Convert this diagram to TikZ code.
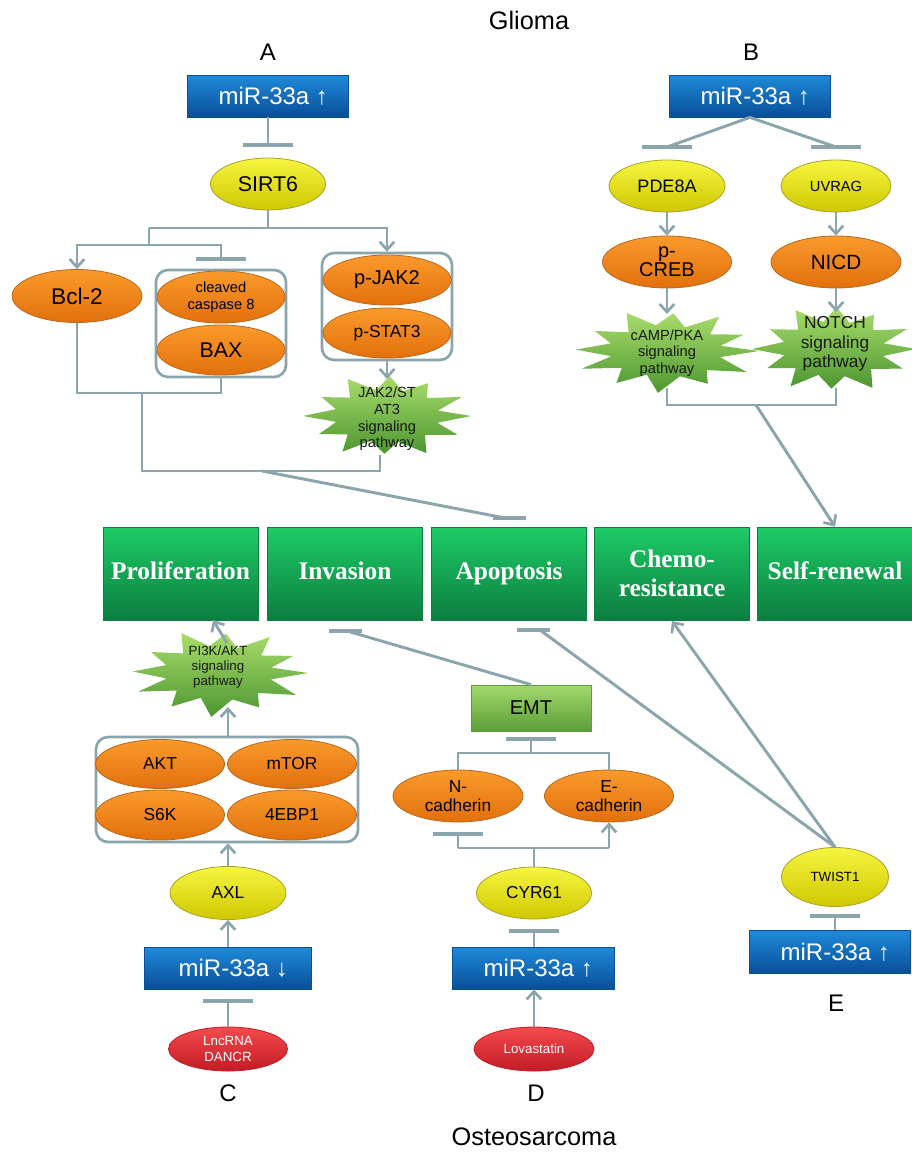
\documentclass[tikz,border=0pt]{standalone}
\usepackage{fontspec}
\setmainfont{Liberation Sans}
\newfontfamily\serifbold{Liberation Serif}
\usetikzlibrary{shapes.geometric,arrows.meta}
\definecolor{lnc}{HTML}{8AA6AC}
\definecolor{blueT}{HTML}{1E8ADA}
\definecolor{blueB}{HTML}{0A4E98}
\definecolor{yelT}{HTML}{F6F640}
\definecolor{yelB}{HTML}{CFC800}
\definecolor{yelD}{HTML}{A9A22A}
\definecolor{orT}{HTML}{FA9A2C}
\definecolor{orB}{HTML}{E2700C}
\definecolor{orD}{HTML}{B8681E}
\definecolor{grT}{HTML}{1DCB66}
\definecolor{grB}{HTML}{0C7E40}
\definecolor{stT}{HTML}{A9DC6C}
\definecolor{stB}{HTML}{4C9630}
\definecolor{emtT}{HTML}{A2D96C}
\definecolor{emtB}{HTML}{5C9E38}
\definecolor{redT}{HTML}{F44A4C}
\definecolor{redB}{HTML}{C21C26}
\tikzset{
  ln/.style={draw=lnc, line width=2.2pt},
  arr/.style={ln, -{Straight Barb[length=6pt,width=11pt,line width=2pt]}},
  inh/.style={ln, -{Bar[width=37.5pt,line width=3pt]}},
  hbar/.style={draw=lnc, line width=3pt},
  ttl/.style={font=\fontsize{19}{22}\selectfont, inner sep=0pt},
  lab/.style={font=\fontsize{18}{20}\selectfont, inner sep=0pt},
  mir/.style={rectangle, inner sep=0pt, minimum height=31.5pt, top color=blueT, bottom color=blueB, draw=blueB, line width=0.6pt, text=white, font=\fontsize{18}{20}\selectfont},
  yel/.style={ellipse, inner sep=0pt, align=center, top color=yelT, bottom color=yelB, draw=yelD, line width=0.6pt},
  org/.style={ellipse, inner sep=0pt, align=center, top color=orT, bottom color=orB, draw=orD, line width=0.6pt},
  rednode/.style={ellipse, inner sep=0pt, align=center, top color=redT, bottom color=redB, draw=redB, line width=0.6pt, text=white, font=\fontsize{10}{12}\selectfont},
  grn/.style={rectangle, inner sep=0pt, minimum width=116.25pt, minimum height=69.75pt, top color=grT, bottom color=grB, draw=grB, line width=0.4pt, text=white, align=center, font=\serifbold\bfseries\fontsize{19}{22}\selectfont},
  grp/.style={rectangle, rounded corners=9pt, draw=lnc, line width=2pt, inner sep=0pt},
  emtbox/.style={rectangle, inner sep=0pt, top color=emtT, bottom color=emtB, draw=emtB, line width=0.6pt},
  sttx/.style={align=center, inner sep=0pt, text=black!90},
  starsh/.style={top color=stT, bottom color=stB}
}
\def\ptsA{15/0.62,28/0.95,45/0.64,62/1.0,78/0.63,92/0.9,108/0.62,122/1.0,137/0.64,152/0.92,167/0.62,180/1.0,195/0.63,210/0.9,225/0.62,242/1.0,258/0.63,272/0.95,288/0.62,302/0.92,318/0.64,333/1.0,348/0.62}
\def\ptsB{14/0.6,30/1.0,46/0.63,60/0.9,76/0.62,95/1.0,110/0.6,125/0.93,140/0.62,155/1.0,168/0.6,182/0.97,197/0.62,212/0.9,228/0.6,245/1.0,260/0.62,275/0.9,290/0.6,305/1.0,320/0.62,335/0.92,348/0.6}
\newcommand\burst[5]{\shade[starsh] ({#1+#3},{#2}) \foreach \a/\f in #5 { -- ({#1+\f*#3*cos(\a)},{#2+\f*#4*sin(\a)}) } -- cycle;}
\newcommand\gtx[1]{\vphantom{Ap}#1}
\begin{document}
\begin{tikzpicture}[x=0.75pt,y=-0.75pt]
\useasboundingbox (0,0) rectangle (912,1153);
\fill[white] (0,0) rectangle (912,1153);

% ---------- titles ----------
\node[ttl] (glioma) at (529,20) {Glioma};
\node[lab] (lA) at (268,52) {A};
\node[lab] (lB) at (751,52) {B};

% ---------- A ----------
\node[mir, minimum width=120.75pt] (mirA) at (268,96) {\hspace*{8pt}miR-33a ↑};
\node[yel, minimum width=86.25pt, minimum height=39pt, font=\fontsize{16}{18}\selectfont] (sirt) at (268,184) {SIRT6};
\node[org, minimum width=97.5pt, minimum height=39.75pt, font=\fontsize{17}{19}\selectfont] (bcl) at (77,296) {Bcl-2};
\node[grp, minimum width=97.5pt, minimum height=80.25pt] (g1) at (221,323.5) {};
\node[org, minimum width=96pt, minimum height=39pt, font=\fontsize{11}{12.5}\selectfont] (cc8) at (221,297) {cleaved\\caspase 8};
\node[org, minimum width=96pt, minimum height=37.5pt, font=\fontsize{16}{18}\selectfont] (bax) at (221,350) {BAX};
\node[grp, minimum width=97.5pt, minimum height=80.25pt] (g2) at (387,306.5) {};
\node[org, minimum width=96pt, minimum height=37.5pt, font=\fontsize{15}{17}\selectfont] (pjak) at (387,280) {p-JAK2};
\node[org, minimum width=96pt, minimum height=37.5pt, font=\fontsize{13}{15}\selectfont] (pstat) at (387,333) {p-STAT3};
\burst{387}{416}{84}{42}{\ptsA}
\node[sttx, font=\fontsize{11}{12.5}\selectfont] (jak) at (387,419) {JAK2/ST\\AT3\\signaling\\pathway};

% ---------- B ----------
\node[mir, minimum width=120.75pt] (mirB) at (750,96) {\hspace*{8pt}miR-33a ↑};
\node[yel, minimum width=87pt, minimum height=39pt, font=\fontsize{13.5}{15}\selectfont] (pde) at (667,186) {PDE8A};
\node[yel, minimum width=82.5pt, minimum height=39pt, font=\fontsize{11}{13}\selectfont] (uvr) at (836,186) {UVRAG};
\node[org, minimum width=96.75pt, minimum height=39pt, font=\fontsize{15}{14}\selectfont] (creb) at (667,262) {p-\\CREB};
\node[org, minimum width=97.5pt, minimum height=39pt, font=\fontsize{15.5}{17}\selectfont] (nicd) at (836,262) {NICD};
\burst{666}{351}{93}{42}{\ptsB}
\node[sttx, font=\fontsize{11}{12.5}\selectfont] (camp) at (667,353) {cAMP/PKA\\signaling\\pathway};
\burst{834}{349}{82}{44}{\ptsA}
\node[sttx, font=\fontsize{13}{14.5}\selectfont] (notch) at (835,344) {NOTCH\\signaling\\pathway};

% ---------- outcome boxes ----------
\node[grn] (prol) at (180.5,573.5) {\gtx{Proliferation}};
\node[grn] (inv) at (345,573.5) {\gtx{Invasion}};
\node[grn] (apo) at (509,573.5) {\gtx{Apoptosis}};
\node[grn] (chemo) at (672,573.5) {Chemo-\\resistance};
\node[grn] (self) at (835,573.5) {\gtx{Self-renewal}};

% ---------- C ----------
\burst{219}{673}{89}{44}{\ptsB}
\node[sttx, font=\fontsize{10}{11.5}\selectfont] (pi3k) at (218,667) {PI3K/AKT\\signaling\\pathway};
\node[grp, minimum width=196.5pt, minimum height=78.75pt] (gC) at (227,789.5) {};
\node[org, minimum width=96.75pt, minimum height=36.75pt, font=\fontsize{13}{15}\selectfont] (akt) at (160,764) {AKT};
\node[org, minimum width=96.75pt, minimum height=36.75pt, font=\fontsize{13}{15}\selectfont] (mtor) at (292,764) {mTOR};
\node[org, minimum width=96.75pt, minimum height=37.5pt, font=\fontsize{13}{15}\selectfont] (s6k) at (160,815) {S6K};
\node[org, minimum width=96.75pt, minimum height=37.5pt, font=\fontsize{13}{15}\selectfont] (ebp) at (292,815) {4EBP1};
\node[yel, minimum width=87pt, minimum height=39.75pt, font=\fontsize{13}{15}\selectfont] (axl) at (228,893) {AXL};
\node[mir, minimum width=125.25pt] (mirC) at (228,968) {\hspace*{8pt}miR-33a ↓};
\node[rednode, minimum width=89.25pt, minimum height=33pt] (lnc) at (228,1049) {LncRNA\\DANCR};
\node[lab] (lC) at (228,1093) {C};

% ---------- D ----------
\node[emtbox, minimum width=90pt, minimum height=34.5pt, font=\fontsize{15}{17}\selectfont] (emt) at (531,708) {EMT};
\node[org, minimum width=97.5pt, minimum height=39pt, font=\fontsize{13}{14}\selectfont] (ncad) at (458,796) {N-\\cadherin};
\node[org, minimum width=96.75pt, minimum height=39pt, font=\fontsize{13}{14}\selectfont] (ecad) at (609,796) {E-\\cadherin};
\node[yel, minimum width=86.25pt, minimum height=39pt, font=\fontsize{13}{15}\selectfont] (cyr) at (534,893) {CYR61};
\node[mir, minimum width=121.5pt] (mirD) at (533,968) {\hspace*{8pt}miR-33a ↑};
\node[rednode, minimum width=90pt, minimum height=33pt] (lova) at (534,1049) {Lovastatin};
\node[lab] (lD) at (536,1093) {D};
\node[ttl] (osteo) at (534,1137) {Osteosarcoma};

% ---------- E ----------
\node[yel, minimum width=80.25pt, minimum height=44.25pt, font=\fontsize{10}{12}\selectfont] (twist) at (835,877) {TWIST1};
\node[mir, minimum width=120.75pt, minimum height=32.25pt] (mirE) at (830,952) {\hspace*{8pt}miR-33a ↑};
\node[lab] (lE) at (836,1003) {E};

% ---------- connectors A ----------
\draw[inh, shorten >=8pt] (mirA.south) -- (sirt.north);
\coordinate (j1) at (268,228);
\coordinate (j2) at (149,228);
\coordinate (j3) at (149,245);
\draw[ln] (sirt.south) -- (j1) -- (j2);
\draw[arr] (j1) -| (g2.north);
\draw[ln] (j2) -- (j3);
\draw[arr] (j3) -| (bcl.north);
\draw[inh, shorten >=6pt] (j3) -| (g1.north);
\coordinate (j4) at (77,393);
\coordinate (j5) at (221,393);
\draw[ln] (bcl.south) -- (j4) -- (j5) -- (g1.south);
\coordinate (j6) at (142,393);
\coordinate (j7) at (142,471);
\coordinate (j8) at (380,471);
\coordinate (jakbot) at (380,455);
\draw[ln] (j6) -- (j7) -- (j8) -- (jakbot);
\coordinate (jaktop) at (387,379);
\draw[arr] (g2.south) -- (jaktop);
\coordinate (j9) at (262,471);
\coordinate (apotop) at (505,518);
\draw[ln] (j9) -- (apotop);
\draw[hbar] (apotop) ++(-12,0) -- ++(33,0);

% ---------- connectors B ----------
\coordinate (bpde) at (667,147);
\coordinate (buvr) at (836,147);
\draw[ln] (mirB.south) -- (bpde);
\draw[ln] (mirB.south) -- (buvr);
\draw[hbar] (bpde) ++(-25,0) -- ++(50,0);
\draw[hbar] (buvr) ++(-25,0) -- ++(50,0);
\draw[arr] (pde.south) -- (creb.north);
\draw[arr] (uvr.south) -- (nicd.north);
\coordinate (camptop) at (667,314);
\coordinate (notchtop) at (836,312);
\draw[arr] (creb.south) -- (camptop);
\draw[arr] (nicd.south) -- (notchtop);
\coordinate (campbot) at (667,388);
\coordinate (notchbot) at (836,388);
\coordinate (k1) at (667,405);
\coordinate (k2) at (836,405);
\coordinate (k3) at (756,405);
\draw[ln] (campbot) -- (k1) -- (k2) -- (notchbot);
\draw[arr] (k3) -- (self.north);

% ---------- connectors C ----------
\coordinate (pi3ktop) at (227,643);
\coordinate (prolbot) at (213,620);
\draw[arr] (pi3ktop) -- (prolbot);
\coordinate (pi3kbot) at (228,707);
\draw[arr] (gC.north -| axl.north) -- (pi3kbot);
\draw[arr] (axl.north) -- (axl.north |- gC.south);
\draw[arr] (mirC.north) -- (axl.south);
\draw[inh, shorten >=7pt] (lnc.north) -- (mirC.south);

% ---------- connectors D ----------
\coordinate (invbot) at (347,631);
\draw[ln] (emt.north) -- (invbot);
\draw[hbar] (invbot) ++(-18,0) -- ++(33,0);
\coordinate (m1) at (458,753);
\coordinate (m2) at (609,753);
\coordinate (m3) at (531,753);
\draw[ln] (ncad.north) -- (m1) -- (m2) -- (ecad.north);
\draw[inh, shorten >=4pt] (m3) -- (emt.south);
\coordinate (n1) at (458,848);
\coordinate (n2) at (609,848);
\coordinate (n3) at (534,848);
\draw[ln] (cyr.north) -- (n3);
\draw[ln] (n1) -- (n2);
\draw[arr] (n2) -- (ecad.south);
\draw[inh, shorten >=7pt] (n1) -- (ncad.south);
\draw[inh, shorten >=7pt] (cyr.south |- mirD.north) -- (cyr.south);
\draw[arr] (lova.north) -- (lova.north |- mirD.south);

% ---------- connectors E ----------
\draw[inh, shorten >=5pt] (twist.south |- mirE.north) -- (twist.south);
\coordinate (apobot) at (540,630);
\draw[ln] (twist.north) -- (apobot);
\draw[hbar] (apobot) ++(-23,0) -- ++(33,0);
\coordinate (chemobot) at (672,621);
\draw[arr] (twist.north) -- (chemobot);
\end{tikzpicture}
\end{document}
